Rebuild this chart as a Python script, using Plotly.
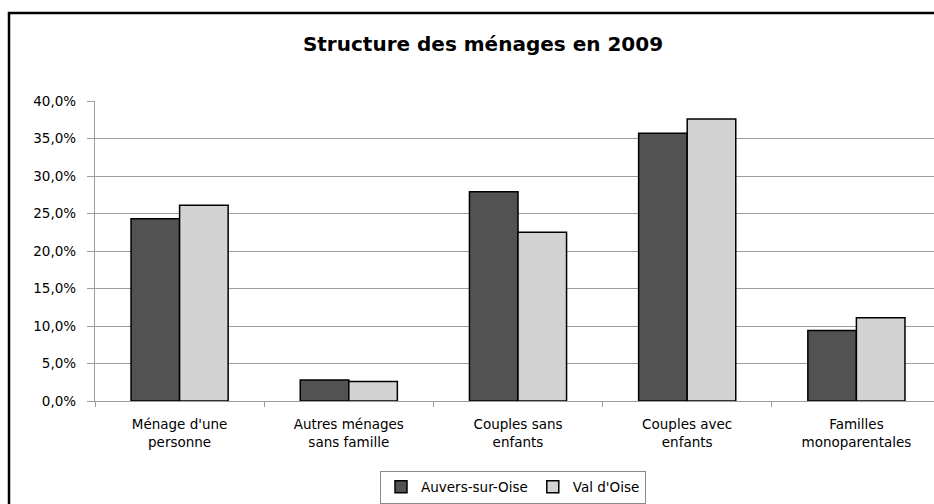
import plotly.graph_objects as go

categories = [
    "Ménage d'une<br>personne",
    "Autres ménages<br>sans famille",
    "Couples sans<br>enfants",
    "Couples avec<br>enfants",
    "Familles<br>monoparentales",
]
auvers = [24.3, 2.8, 27.9, 35.7, 9.4]
val_oise = [26.1, 2.6, 22.5, 37.6, 11.1]
y_ticks = [0, 5, 10, 15, 20, 25, 30, 35, 40]
y_tick_labels = [f"{v:.1f}%".replace(".", ",") for v in y_ticks]

W, H = 962, 504
L, R, T, B = 95, 21, 101, 103
FONT = "Verdana, DejaVu Sans, sans-serif"
GRID = "#9c9c9c"

fig = go.Figure()
fig.add_trace(go.Bar(
    x=categories, y=auvers, name="Auvers-sur-Oise",
    marker=dict(color="#525252", line=dict(color="#000000", width=1.5)),
))
fig.add_trace(go.Bar(
    x=categories, y=val_oise, name="Val d'Oise",
    marker=dict(color="#d3d3d3", line=dict(color="#000000", width=1.5)),
))


def px_x(px):
    return (px - L) / (W - L - R)


def px_y(py):
    return (H - B - py) / (H - T - B)


# outer chart frame
fig.add_shape(
    type="rect", xref="paper", yref="paper",
    x0=px_x(9), x1=px_x(961), y0=px_y(530), y1=px_y(13),
    line=dict(color="#000000", width=2.5), fillcolor="rgba(0,0,0,0)",
    layer="below",
)

fig.update_layout(
    width=W, height=H,
    margin=dict(l=L, r=R, t=T, b=B, pad=0, autoexpand=False),
    paper_bgcolor="#ffffff", plot_bgcolor="#ffffff",
    font=dict(family=FONT, size=13.5, color="#000000"),
    barmode="group", bargap=0.426, bargroupgap=0,
    title=dict(
        text="<b>Structure des ménages en 2009</b>",
        x=483 / W, xanchor="center", xref="container",
        y=1 - 44 / H, yanchor="middle", yref="container",
        font=dict(family=FONT, size=20, color="#000000"),
    ),
    showlegend=True,
    legend=dict(
        orientation="h", x=px_x(513), xanchor="center",
        y=px_y(487), yanchor="middle",
        bordercolor="#8a8a8a", borderwidth=1, bgcolor="#ffffff",
        font=dict(family=FONT, size=13.5, color="#000000"),
        itemwidth=30, traceorder="normal",
    ),
    xaxis=dict(
        type="category", tickson="boundaries", automargin=False,
        ticks="outside", ticklen=5, tickcolor=GRID, tickwidth=1,
        showline=True, linecolor=GRID, linewidth=1.3,
        showgrid=False, tickfont=dict(size=13.5),
        ticklabelstandoff=11,
    ),
    yaxis=dict(
        range=[0, 40], tickvals=y_ticks, ticktext=y_tick_labels,
        automargin=False,
        ticks="outside", ticklen=7, tickcolor=GRID, tickwidth=1,
        showline=True, linecolor=GRID, linewidth=1.3,
        showgrid=True, gridcolor=GRID, gridwidth=1.3,
        zeroline=False, tickfont=dict(size=13.5),
        ticklabelstandoff=8,
    ),
)

fig.write_html(
    "out.html",
    post_script="document.documentElement.style.overflow='hidden';"
                "document.body.style.overflow='hidden';"
                "document.body.style.margin='0';",
)
